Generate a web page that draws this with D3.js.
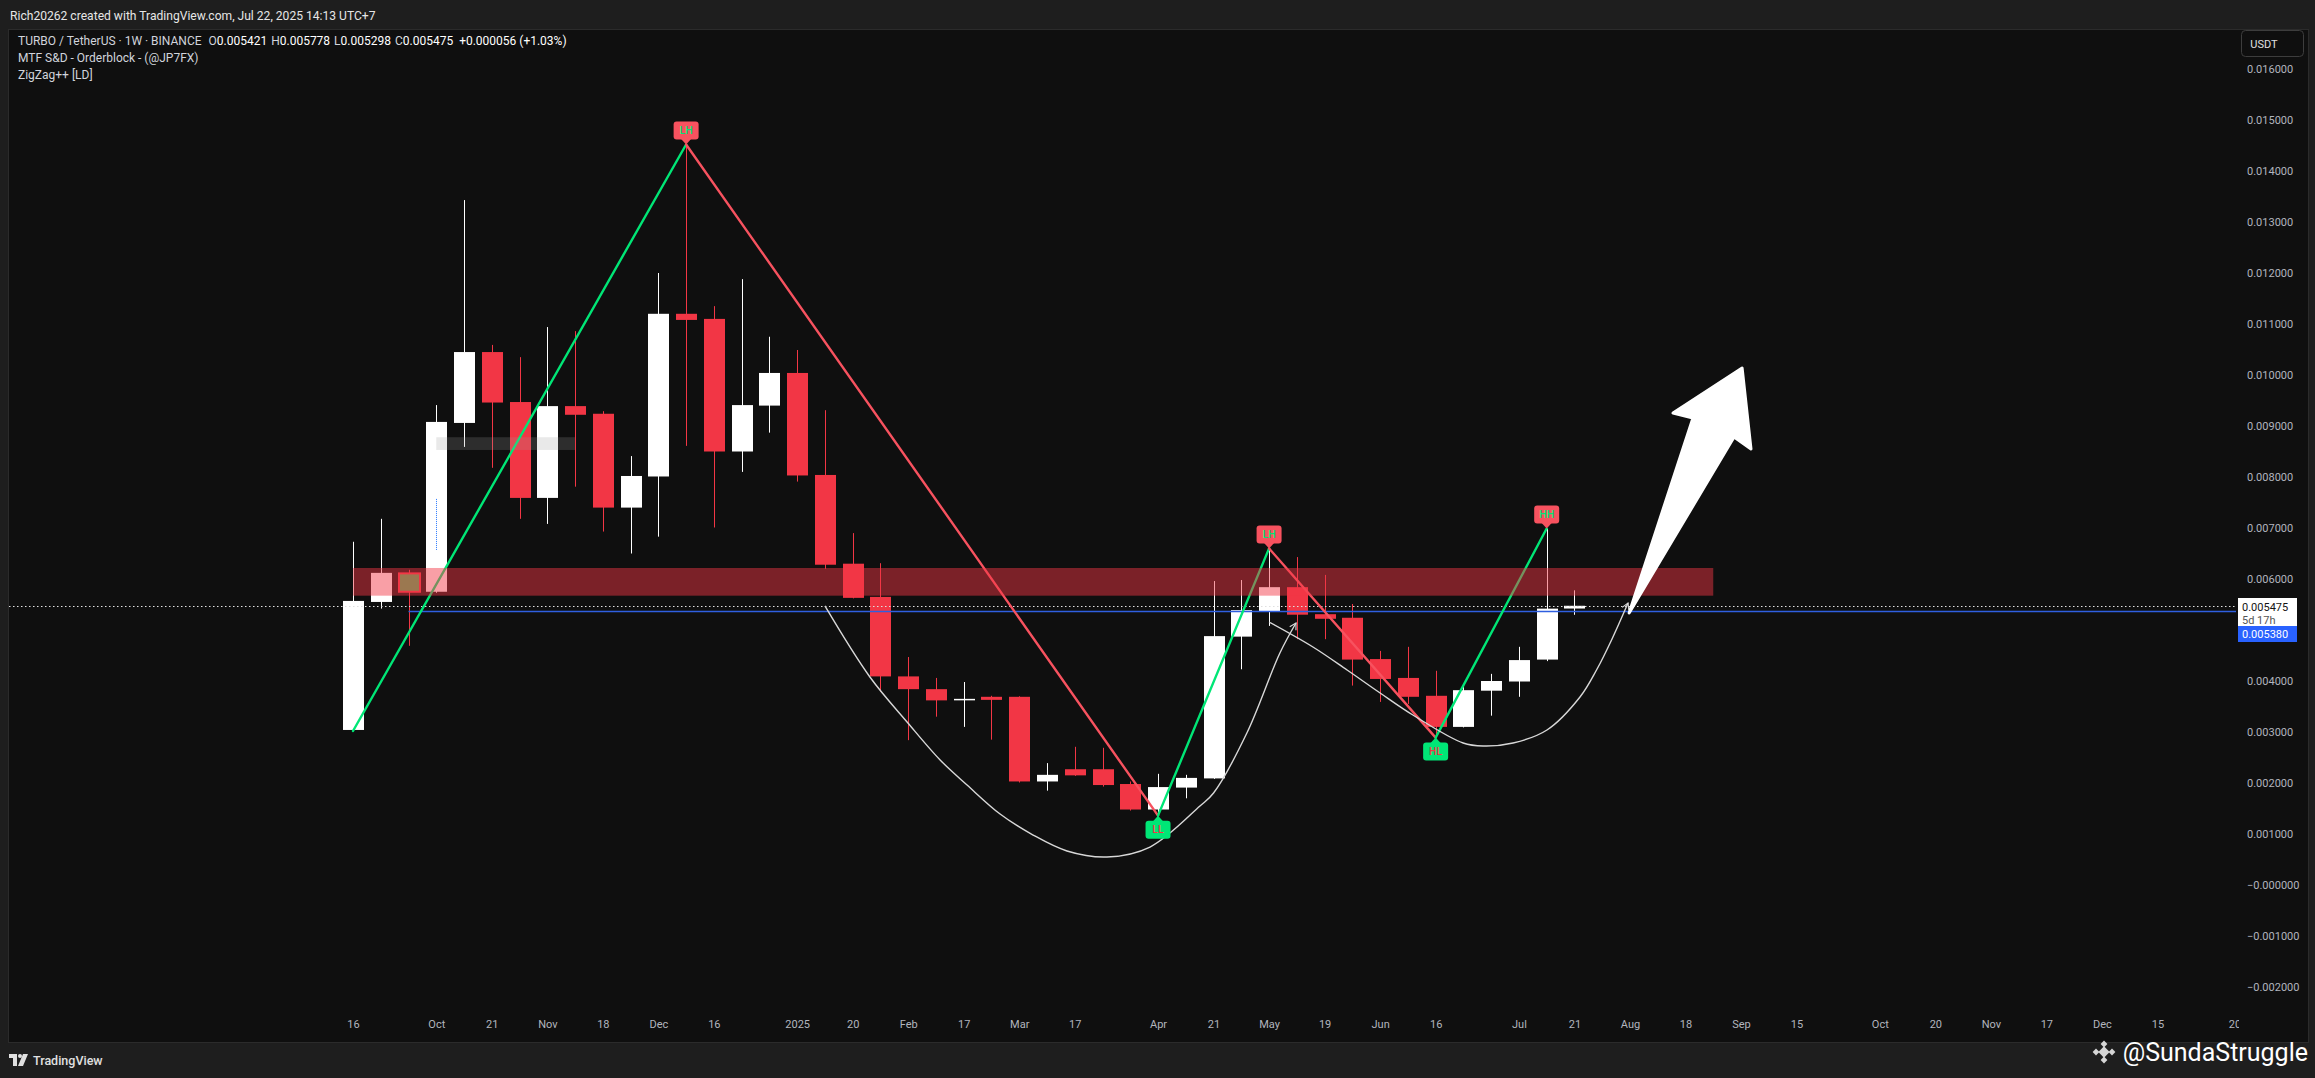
<!DOCTYPE html>
<html><head><meta charset="utf-8">
<script src="https://cdn.jsdelivr.net/npm/d3@7"></script>
<style>
html,body{margin:0;padding:0;background:#1e1e1e;overflow:hidden;}
svg{display:block;}
text{font-family:Roboto,"Liberation Sans",sans-serif;}
</style></head><body>
<svg id="chart" width="2315" height="1078"></svg>
<script>
// ---------------- DATA ----------------
const firstWeek = "2024-09-16";           // weekly candles, Monday open
const opens  = [0.00304,0.00555,0.00611,0.00575,0.00906,0.01045,0.00947,0.00759,0.00939,0.00924,0.00740,0.00801,0.01120,0.01110,0.00850,0.00940,0.01004,0.00804,0.00630,0.00565,0.00409,0.00384,0.00363,0.00369,0.00369,0.00203,0.00227,0.00227,0.00198,0.00148,0.00191,0.00209,0.00487,0.00537,0.00584,0.00531,0.00524,0.00443,0.00406,0.00371,0.00310,0.00381,0.00399,0.00442,0.005421];
const highs  = [0.00673,0.00718,0.00618,0.00941,0.01343,0.01059,0.01035,0.01094,0.01086,0.00929,0.00841,0.01200,0.01452,0.01135,0.01188,0.01075,0.01049,0.00931,0.00690,0.00631,0.00447,0.00406,0.00398,0.00371,0.00370,0.00239,0.00271,0.00269,0.00203,0.00218,0.00216,0.00596,0.00598,0.00660,0.00643,0.00608,0.00551,0.00459,0.00467,0.00420,0.00394,0.00414,0.00467,0.00699,0.005778];
const lows   = [0.00302,0.00542,0.00469,0.00573,0.00859,0.00818,0.00718,0.00708,0.00781,0.00693,0.00650,0.00683,0.00861,0.00701,0.00810,0.00887,0.00791,0.00620,0.00562,0.00379,0.00284,0.00330,0.00310,0.00285,0.00201,0.00185,0.00214,0.00193,0.00146,0.00136,0.00170,0.00208,0.00423,0.00508,0.00482,0.00482,0.00391,0.00359,0.00355,0.00289,0.00309,0.00332,0.00369,0.00439,0.005298];
const closes = [0.00557,0.00612,0.00575,0.00908,0.01045,0.00946,0.00759,0.00939,0.00922,0.00740,0.00802,0.01120,0.01108,0.00850,0.00941,0.01004,0.00803,0.00628,0.00563,0.00409,0.00384,0.00362,0.00365,0.00363,0.00203,0.00216,0.00215,0.00196,0.00148,0.00192,0.00210,0.00488,0.00539,0.00584,0.00530,0.00522,0.00442,0.00404,0.00369,0.00310,0.00382,0.00400,0.00441,0.005419,0.005475];

// ZigZag++ pivots: candle index, which extreme, label
const zigIndex = [0, 12, 29, 33, 39, 43];
const zigSide  = ["L","H","L","H","L","H"];
const zigLabel = ["", "LH", "LL", "LH", "HL", "HH"];

// Supply / demand zone and small orderblock (week offsets, prices)
const zoneWeeks  = [0, 49];
const zonePrices = [0.005673, 0.006216];
const obWeeks    = [3, 8];
const obPrices   = [0.00853, 0.00878];
const obCandle   = 2;

// price lines
const lastPrice = 0.005475;
const bluePrice = 0.005380;
const blueFromWeek = 2;

// hand-drawn curves [weekOffset, price]
const cupBig = [[17.0,0.005471],[18.62,0.004078],[19.99,0.003176],[21.15,0.002451],[22.12,0.001961],[23.31,0.001392],[24.50,0.000980],[25.72,0.000667],[27.16,0.000549],[28.71,0.000745],[30.51,0.001549],[31.0,0.001804],[32.2,0.002980],[33.39,0.004549],[33.97,0.005137]];
const cupSmall = [[33.0,0.005157],[34.58,0.004667],[35.81,0.004216],[37.0,0.003765],[38.18,0.003333],[39.99,0.002784],[40.71,0.002725],[41.79,0.002784],[43.01,0.003039],[44.2,0.003686],[44.8,0.00422],[45.35,0.00482],[45.93,0.005529]];
const bigArrow = [[45.97,0.005333],[48.27,0.009157],[47.55,0.009255],[50.04,0.010137],[50.36,0.008549],[49.75,0.008784]];
const blueMark = [3, 0.00757, 0.00657];

// axes
const timeTickDates  = ["2024-09-16","2024-10-07","2024-10-21","2024-11-04","2024-11-18","2024-12-02","2024-12-16","2025-01-06","2025-01-20","2025-02-03","2025-02-17","2025-03-03","2025-03-17","2025-04-07","2025-04-21","2025-05-05","2025-05-19","2025-06-02","2025-06-16","2025-07-07","2025-07-21","2025-08-04","2025-08-18","2025-09-01","2025-09-15","2025-10-06","2025-10-20","2025-11-03","2025-11-17","2025-12-01","2025-12-15","2026-01-05"];
const timeTickLabels = ["16","Oct","21","Nov","18","Dec","16","2025","20","Feb","17","Mar","17","Apr","21","May","19","Jun","16","Jul","21","Aug","18","Sep","15","Oct","20","Nov","17","Dec","15","2026"];
const priceTicks      = [0.016,0.015,0.014,0.013,0.012,0.011,0.010,0.009,0.008,0.007,0.006,0.004,0.003,0.002,0.001,0,-0.001,-0.002];
const priceTickLabels = ["0.016000","0.015000","0.014000","0.013000","0.012000","0.011000","0.010000","0.009000","0.008000","0.007000","0.006000","0.004000","0.003000","0.002000","0.001000","\u22120.000000","\u22120.001000","\u22120.002000"];

const headerText = "Rich20262 created with TradingView.com, Jul 22, 2025 14:13 UTC+7";
const legendLines = ["MTF S&D - Orderblock - (@JP7FX)", "ZigZag++ [LD]"];

// ---------------- LAYOUT ----------------
const W = 2315, H = 1078;
const panel = {l: 8.5, t: 29.5, r: 2308.5, b: 1042.5};
const plot  = {l: 9, t: 30, r: 2236, b: 1012};
const UP = "#ffffff", DOWN = "#f23645", GREEN = "#00e676", RED = "#f7525f";

const parse = d3.utcParse("%Y-%m-%d");
const t0 = parse(firstWeek).getTime();
const wk = w => new Date(t0 + w * 7 * 864e5);
const x = d3.scaleUtc().domain([wk(0), wk(65)]).range([353, 353 + 65 * 27.76]);
const y = d3.scaleLinear().domain([0, 0.016]).range([885, 69]);
const xw = w => x(wk(w));
const bodyW = 21;

const svg = d3.select("#chart");
svg.append("rect").attr("width", W).attr("height", H).attr("fill", "#1e1e1e");
svg.append("rect").attr("x", panel.l).attr("y", panel.t).attr("width", panel.r - panel.l).attr("height", panel.b - panel.t)
  .attr("fill", "#0f0f0f").attr("stroke", "#2b2b2b");

const defs = svg.append("defs");
defs.append("clipPath").attr("id", "clip").append("rect")
  .attr("x", plot.l).attr("y", plot.t).attr("width", plot.r - plot.l).attr("height", plot.b - plot.t);
defs.append("clipPath").attr("id", "xclip").append("rect")
  .attr("x", plot.l).attr("y", plot.b).attr("width", plot.r - plot.l + 3).attr("height", 30);
defs.append("marker").attr("id", "chev").attr("viewBox", "0 0 10 10").attr("refX", 8).attr("refY", 5)
  .attr("markerWidth", 9).attr("markerHeight", 9).attr("orient", "auto").attr("markerUnits", "userSpaceOnUse")
  .append("path").attr("d", "M1,1 L8,5 L1,9").attr("fill", "none").attr("stroke", "#d8d8d8").attr("stroke-width", 1.3);

const g = svg.append("g").attr("clip-path", "url(#clip)");

// candles
const candles = opens.map((o, i) => ({i, o, h: highs[i], l: lows[i], c: closes[i]}));
const cg = g.append("g");
cg.selectAll("line.wick").data(candles).join("line").attr("class", "wick")
  .attr("x1", d => Math.round(xw(d.i)) + 0.5).attr("x2", d => Math.round(xw(d.i)) + 0.5)
  .attr("y1", d => y(d.h)).attr("y2", d => y(d.l))
  .attr("stroke", d => d.c >= d.o ? UP : DOWN).attr("stroke-width", 1);
cg.selectAll("rect.body").data(candles).join("rect").attr("class", "body")
  .attr("x", d => Math.round(xw(d.i)) + 0.5 - bodyW / 2)
  .attr("y", d => y(Math.max(d.o, d.c)))
  .attr("width", bodyW)
  .attr("height", d => Math.max(1.5, Math.abs(y(d.o) - y(d.c))))
  .attr("fill", d => d.i === obCandle ? "#4bb55a" : (d.c >= d.o ? UP : DOWN))
  .attr("stroke", d => d.i === obCandle ? DOWN : "none").attr("stroke-width", 2);

// blue dotted marker inside a candle
g.append("line").attr("x1", Math.round(xw(blueMark[0])) + 0.5).attr("x2", Math.round(xw(blueMark[0])) + 0.5)
  .attr("y1", y(blueMark[1])).attr("y2", y(blueMark[2])).attr("stroke", "#2979ff").attr("stroke-dasharray", "1,1");

// price lines
g.append("line").attr("x1", plot.l).attr("x2", plot.r + 2).attr("y1", Math.round(y(lastPrice)) + 0.5).attr("y2", Math.round(y(lastPrice)) + 0.5)
  .attr("stroke", "#e0e0e0").attr("stroke-dasharray", "1.5,2.5").attr("stroke-width", 1.2);
g.append("line").attr("x1", xw(blueFromWeek)).attr("x2", plot.r + 2).attr("y1", Math.round(y(bluePrice)) + 0.5).attr("y2", Math.round(y(bluePrice)) + 0.5)
  .attr("stroke", "#2f5fe0").attr("stroke-width", 1.3);

// zigzag
const zig = zigIndex.map((ci, k) => ({ci, side: zigSide[k], label: zigLabel[k], p: zigSide[k] === "H" ? highs[ci] : lows[ci]}));
for (let k = 0; k < zig.length - 1; k++) {
  const a = zig[k], b = zig[k + 1];
  g.append("line").attr("x1", xw(a.ci)).attr("y1", y(a.p)).attr("x2", xw(b.ci)).attr("y2", y(b.p))
    .attr("stroke", b.p > a.p ? GREEN : RED).attr("stroke-width", 2.4).attr("stroke-linecap", "round");
}

// zone overlay
g.append("rect").attr("x", xw(zoneWeeks[0])).attr("width", xw(zoneWeeks[1]) - xw(zoneWeeks[0]))
  .attr("y", y(zonePrices[1])).attr("height", y(zonePrices[0]) - y(zonePrices[1]))
  .attr("fill", "#f23645").attr("fill-opacity", 0.48);
// small grey orderblock
g.append("rect").attr("x", xw(obWeeks[0])).attr("width", xw(obWeeks[1]) - xw(obWeeks[0]))
  .attr("y", y(obPrices[1])).attr("height", y(obPrices[0]) - y(obPrices[1]))
  .attr("fill", "#9a9a9a").attr("fill-opacity", 0.22);

// curves
const curveLine = d3.line().x(d => xw(d[0])).y(d => y(d[1])).curve(d3.curveCatmullRom.alpha(0.5));
[cupBig, cupSmall].forEach(pts => {
  g.append("path").attr("d", curveLine(pts)).attr("fill", "none").attr("stroke", "#d8d8d8")
    .attr("stroke-width", 1.4).attr("marker-end", "url(#chev)");
});

// big arrow
g.append("path").attr("d", d3.line().x(d => xw(d[0])).y(d => y(d[1]))(bigArrow) + "Z")
  .attr("fill", "#ffffff").attr("stroke", "#ffffff").attr("stroke-width", 3).attr("stroke-linejoin", "round");

// zigzag labels
const mk = g.append("g");
zig.filter(d => d.label).forEach(d => {
  const cx = xw(d.ci), ty = y(d.p), bw = 25, bh = 18, ptr = 5;
  const up = d.side === "H";
  const by = up ? ty - ptr - bh : ty + ptr;
  const fill = up ? RED : GREEN;
  mk.append("rect").attr("x", cx - bw / 2).attr("y", by).attr("width", bw).attr("height", bh).attr("rx", 3).attr("fill", fill);
  const py = up ? ty - ptr - 0.5 : ty + ptr + 0.5;
  mk.append("path").attr("d", `M${cx - 5},${py} L${cx},${ty} L${cx + 5},${py} Z`).attr("fill", fill);
  mk.append("text").attr("x", cx).attr("y", by + bh / 2 + 3.6).attr("text-anchor", "middle")
    .attr("font-size", 10.5).attr("font-weight", 500).attr("fill", up ? GREEN : DOWN).text(d.label);
});

// ---------------- AXES ----------------
const xAxis = d3.axisBottom(x).tickValues(timeTickDates.map(parse)).tickFormat((d, i) => timeTickLabels[i]).tickSize(0).tickPadding(0);
const xwrap = svg.append("g").attr("clip-path", "url(#xclip)");
const xa = xwrap.append("g").attr("transform", `translate(0,1020)`).call(xAxis);
xa.select(".domain").remove();
xa.selectAll("text").attr("font-size", 11).attr("fill", "#b2b5be").attr("dy", "0.71em").attr("font-family", "Roboto, sans-serif");

const yAxis = d3.axisRight(y).tickValues(priceTicks).tickFormat((d, i) => priceTickLabels[i]).tickSize(0).tickPadding(0);
const ya = svg.append("g").attr("transform", "translate(2247,0)").call(yAxis);
ya.select(".domain").remove();
ya.selectAll("text").attr("font-size", 11).attr("fill", "#b2b5be").attr("dy", "0.35em").attr("text-anchor", "start").attr("x", 0).attr("font-family", "Roboto, sans-serif");

// USDT button
svg.append("rect").attr("x", 2241.5).attr("y", 30.5).attr("width", 62).attr("height", 26).attr("rx", 4)
  .attr("fill", "#0f0f0f").attr("stroke", "#3d3d3d");
svg.append("text").attr("x", 2264).attr("y", 48).attr("text-anchor", "middle").attr("font-size", 11).attr("fill", "#e0e0e0").text("USDT");

// last price labels
svg.append("rect").attr("x", 2238).attr("y", 598).attr("width", 59).attr("height", 28).attr("fill", "#ffffff");
svg.append("text").attr("x", 2242).attr("y", 611).attr("font-size", 11).attr("fill", "#131313").text(d3.format(".6f")(lastPrice));
svg.append("text").attr("x", 2242).attr("y", 624).attr("font-size", 11).attr("fill", "#555").text("5d 17h");
svg.append("rect").attr("x", 2238).attr("y", 626).attr("width", 59).attr("height", 16).attr("fill", "#2962ff");
svg.append("text").attr("x", 2242).attr("y", 638).attr("font-size", 11).attr("fill", "#ffffff").text(d3.format(".6f")(bluePrice));

// ---------------- TEXTS ----------------
svg.append("text").attr("x", 10).attr("y", 20).attr("font-size", 12.1).attr("fill", "#e6e6e6").text(headerText);
const lg = svg.append("text").attr("x", 18).attr("y", 45).attr("font-size", 12).attr("fill", "#d1d4dc");
lg.append("tspan").text("TURBO / TetherUS \u00b7 1W \u00b7 BINANCE  ");
const ohlc = [["O", opens], ["H", highs], ["L", lows], ["C", closes]];
const last = opens.length - 1;
ohlc.forEach(([k, arr]) => {
  lg.append("tspan").attr("dx", 4).text(k);
  lg.append("tspan").attr("fill", "#ffffff").text(d3.format(".6f")(arr[last]));
});
const chg = closes[last] - closes[last - 1];
lg.append("tspan").attr("dx", 6).attr("fill", "#ffffff").text("+" + d3.format(".6f")(chg) + " (+" + d3.format(".2f")(chg / closes[last - 1] * 100) + "%)");
legendLines.forEach((t, i) => svg.append("text").attr("x", 18).attr("y", 62 + i * 17).attr("font-size", 12).attr("fill", "#d1d4dc").text(t));

// TradingView logo
const tv = svg.append("g").attr("transform", "translate(9,1054)");
tv.append("path").attr("d", "M0,0 H8 V12 H4 V4 H0 Z").attr("fill", "#e0e0e0");
tv.append("circle").attr("cx", 11).attr("cy", 2).attr("r", 2).attr("fill", "#e0e0e0");
tv.append("path").attr("d", "M14,0 H19 L14,12 H9 Z").attr("fill", "#e0e0e0");
svg.append("text").attr("x", 33).attr("y", 1065).attr("font-size", 12.5).attr("font-weight", 500).attr("fill", "#e0e0e0").text("TradingView");

// watermark
const bn = svg.append("g").attr("transform", "translate(2104,1052)").attr("fill", "#d6d6d6");
[[0,0,4],[-8,0,2.4],[8,0,2.4],[0,-8,2.4],[0,8,2.4]].forEach(([dx,dy,s]) =>
  bn.append("rect").attr("x", dx - s).attr("y", dy - s).attr("width", 2*s).attr("height", 2*s).attr("transform", `rotate(45 ${dx} ${dy})`));
svg.append("text").attr("x", 2308).attr("y", 1061).attr("text-anchor", "end").attr("font-size", 25)
  .attr("font-family", "Roboto, sans-serif").attr("fill", "#ffffff").text("@SundaStruggle");
</script>
</body></html>
